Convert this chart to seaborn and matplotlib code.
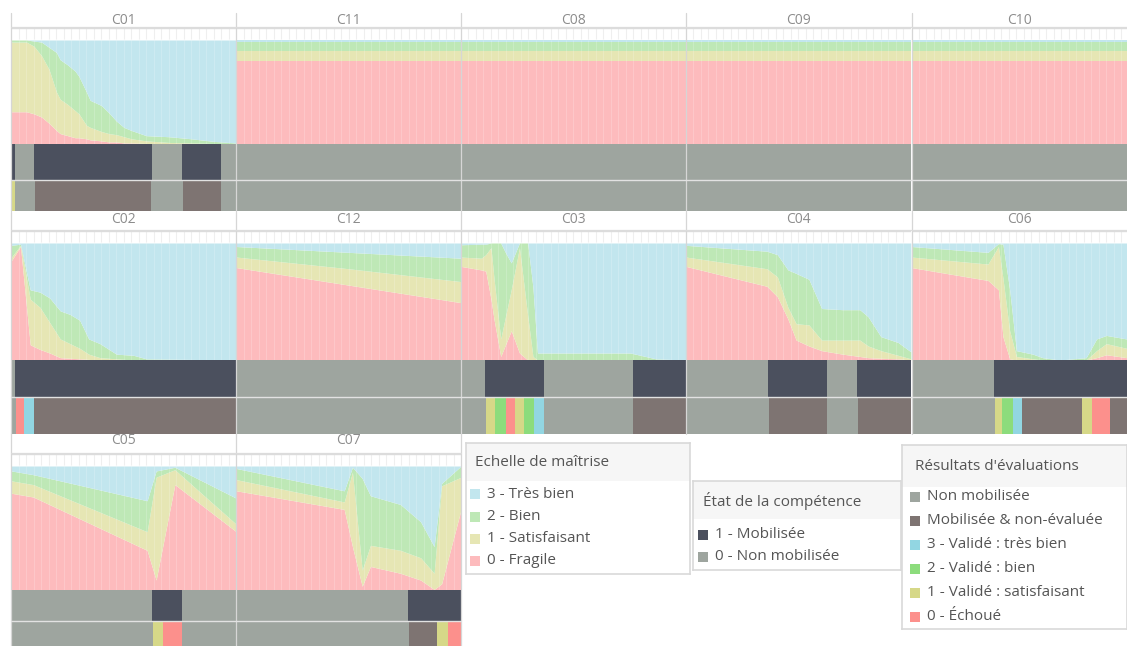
import numpy as np
import matplotlib
matplotlib.use("Agg")
import matplotlib.pyplot as plt
from matplotlib.lines import Line2D
from matplotlib.patches import Rectangle
import seaborn as sns

# ---- data : share of students per level (%), x = time step 0..30 ----
c01_x = [0, 2, 3, 4, 5, 6, 6.5, 7.5, 8.5, 9, 10, 10.5, 12, 13, 14, 15, 16, 18, 21, 24, 27, 30]
c01_frag = [31, 31, 29, 26, 20, 13, 10, 8, 6, 6, 5, 4, 3, 2, 2, 1, 1, 0.5, 0, 0, 0, 0]
c01_sat = [67, 67, 65, 59, 52, 37, 33, 30, 26, 23, 13, 12, 9, 8, 7, 6, 4, 2.5, 1.5, 1, 0.5, 0.5]
c01_bien = [2, 2, 5, 13, 21, 38, 38, 38, 38, 36, 32, 26, 25, 20, 13, 9, 8, 5, 5.5, 4, 2, 0.5]

c11_x = [0, 30]
c11_frag = [80, 80]
c11_sat = [9, 9]
c11_bien = [9.5, 9.5]

c08_x = [0, 30]
c08_frag = [80, 80]
c08_sat = [9, 9]
c08_bien = [9.5, 9.5]

c09_x = [0, 30]
c09_frag = [80, 80]
c09_sat = [9, 9]
c09_bien = [9.5, 9.5]

c10_x = [0, 30]
c10_frag = [80, 80]
c10_sat = [9, 9]
c10_bien = [9.5, 9.5]

c02_x = [0, 1.2, 2.5, 3.8, 5.1, 6.5, 7.8, 9.1, 10.3, 11.8, 14, 16.3, 18, 30]
c02_frag = [85, 97, 13, 9, 6, 2, 1.5, 1, 0.5, 0, 0, 0, 0, 0]
c02_sat = [3, 1, 39, 36, 26, 16, 12.5, 9, 4.5, 2, 1, 0, 0, 0]
c02_bien = [10, 1, 8, 13, 21, 24, 25, 24, 13, 12, 4, 4, 1, 0]

c12_x = [0, 15, 30]
c12_frag = [79, 64, 49]
c12_sat = [9, 14, 18]
c12_bien = [9, 14, 20]

c03_x = [0, 2.7, 3.3, 4.0, 4.4, 5.3, 6.0, 6.7, 7.8, 8.9, 9.6, 10.2, 22.6, 26, 30]
c03_frag = [80, 77, 76, 52, 35, 3, 14, 25, 6, 0, 0, 0, 0, 0, 0]
c03_sat = [8, 10, 14, 44, 35, 15, 25, 35, 90, 38, 3, 0, 0, 0, 0]
c03_bien = [10.5, 12, 9, 4, 30, 82, 52, 23, 4, 62, 59, 6, 6, 1, 0]

c04_x = [0, 10.8, 12.2, 13.6, 14.7, 16.4, 18.1, 20.9, 23.2, 24.3, 26, 28.3, 30]
c04_frag = [80, 63, 54, 35, 17, 12, 8, 5, 3, 2, 1.5, 1, 0]
c04_sat = [8, 15, 17, 10, 14, 18, 9, 12, 14, 10, 6.5, 3, 1]
c04_bien = [10, 15, 19, 32, 43, 39, 27, 26, 26, 25, 12, 11, 6]

c06_x = [0, 10.2, 11.6, 12.2, 13.1, 14, 16.2, 17.5, 19.8, 23.3, 24.7, 26, 28.7, 30]
c06_frag = [79, 68, 60, 20, 1, 0, 0, 0, 0, 0, 2, 4.5, 2, 2]
c06_sat = [9, 14, 37, 50, 24, 3, 1, 0, 0, 0, 6, 9.5, 8, 8]
c06_bien = [9, 10, 2.5, 29, 35, 5, 4, 2, 0, 2, 10, 7, 8, 8]

c05_x = [0, 2.9, 18.1, 19.3, 21.8, 30]
c05_frag = [78, 75, 32, 8, 85, 47]
c05_sat = [10, 10, 15, 83, 12, 6]
c05_bien = [8, 8, 25, 5, 2, 21]

c07_x = [0, 14.4, 15.5, 16.8, 17.9, 21.9, 24.6, 26.4, 27.4, 30]
c07_frag = [80, 65, 35, 3, 19, 13.5, 8, 0.5, 5, 65]
c07_sat = [9, 6, 60, 13, 17, 18.5, 18, 13, 79, 26]
c07_bien = [9, 9, 4, 74, 40, 37, 29, 21.5, 2, 9]

# ---- state of the competence (1 mobilisee / 0 non) : segment edges + values ----
c01_state_x = [0, 0.5, 3.0, 18.8, 22.7, 27.9, 30]
c01_state = [1, 0, 1, 0, 1, 0]
c02_state_x = [0, 0.45, 30]
c02_state = [0, 1]
c03_state_x = [0, 3.2, 11.1, 22.9, 30]
c03_state = [0, 1, 0, 1]
c04_state_x = [0, 11.0, 18.8, 22.8, 30]
c04_state = [0, 1, 0, 1]
c06_state_x = [0, 11.0, 30]
c06_state = [0, 1]
c05_state_x = [0, 18.8, 22.8, 30]
c05_state = [0, 1, 0]
c07_state_x = [0, 22.9, 30]
c07_state = [0, 1]
none_state_x = [0, 30]
none_state = [0]

# ---- evaluation results : segment edges + codes ----
c01_res_x = [0, 0.45, 3.1, 18.6, 22.9, 27.9, 30]
c01_res = ["V1", "NM", "ME", "NM", "ME", "NM"]
c02_res_x = [0, 0.6, 1.7, 3.0, 30]
c02_res = ["NM", "E0", "V3", "ME"]
c03_res_x = [0, 3.3, 4.5, 6.0, 7.2, 8.4, 9.8, 11.1, 22.9, 30]
c03_res = ["NM", "V1", "V2", "E0", "V1", "V2", "V3", "NM", "ME"]
c04_res_x = [0, 11.1, 18.8, 22.9, 30]
c04_res = ["NM", "ME", "NM", "ME"]
c06_res_x = [0, 11.1, 12.1, 13.6, 14.8, 22.8, 24.1, 26.5, 30]
c06_res = ["NM", "V1", "V2", "V3", "ME", "V1", "E0", "ME"]
c05_res_x = [0, 18.9, 20.2, 22.7, 30]
c05_res = ["NM", "V1", "E0", "NM"]
c07_res_x = [0, 23.0, 26.8, 28.2, 30]
c07_res = ["NM", "ME", "V1", "E0"]
none_res_x = [0, 30]
none_res = ["NM"]

# ---- legends ----
scale_labels = ["3 - Très bien", "2 - Bien", "1 - Satisfaisant", "0 - Fragile"]
state_labels = ["1 - Mobilisée", "0 - Non mobilisée"]
res_codes = ["NM", "ME", "V3", "V2", "V1", "E0"]
res_labels = ["Non mobilisée", "Mobilisée & non-évaluée", "3 - Validé : très bien",
              "2 - Validé : bien", "1 - Validé : satisfaisant", "0 - Échoué"]

area_colors = ["#fdbbbd", "#e6e6b4", "#bee8b6", "#c2e6ee"]  # frag, sat, bien, tres bien
state_colors = {1: "#4b505e", 0: "#9ea59f"}
res_colors = dict(zip(res_codes, ["#9ea59f", "#7e7472", "#92d6e2", "#8cdc7c", "#d6d888", "#fc908c"]))

panels = [
    ("C01", c01_x, c01_frag, c01_sat, c01_bien, c01_state_x, c01_state, c01_res_x, c01_res),
    ("C11", c11_x, c11_frag, c11_sat, c11_bien, none_state_x, none_state, none_res_x, none_res),
    ("C08", c08_x, c08_frag, c08_sat, c08_bien, none_state_x, none_state, none_res_x, none_res),
    ("C09", c09_x, c09_frag, c09_sat, c09_bien, none_state_x, none_state, none_res_x, none_res),
    ("C10", c10_x, c10_frag, c10_sat, c10_bien, none_state_x, none_state, none_res_x, none_res),
    ("C02", c02_x, c02_frag, c02_sat, c02_bien, c02_state_x, c02_state, c02_res_x, c02_res),
    ("C12", c12_x, c12_frag, c12_sat, c12_bien, none_state_x, none_state, none_res_x, none_res),
    ("C03", c03_x, c03_frag, c03_sat, c03_bien, c03_state_x, c03_state, c03_res_x, c03_res),
    ("C04", c04_x, c04_frag, c04_sat, c04_bien, c04_state_x, c04_state, c04_res_x, c04_res),
    ("C06", c06_x, c06_frag, c06_sat, c06_bien, c06_state_x, c06_state, c06_res_x, c06_res),
    ("C05", c05_x, c05_frag, c05_sat, c05_bien, c05_state_x, c05_state, c05_res_x, c05_res),
    ("C07", c07_x, c07_frag, c07_sat, c07_bien, c07_state_x, c07_state, c07_res_x, c07_res),
]

sns.set_theme(style="white")
plt.rcParams["font.family"] = ["Open Sans", "DejaVu Sans"]

W, H = 1127, 646
fig = plt.figure(figsize=(W / 100, H / 100), dpi=100)


def px_axes(x0, y0, x1, y1):
    return fig.add_axes([x0 / W, 1 - y1 / H, (x1 - x0) / W, (y1 - y0) / H])


def clean(ax):
    ax.set_xticks([])
    ax.set_yticks([])
    for s in ax.spines.values():
        s.set_visible(False)


col_left = [11.5, 236.3, 461, 686, 911.5]
col_w = 224.8
# band_top, title_y, strip, area, state, result
rows = [
    (13, 20, (27, 40), (40, 144), (144, 180), (181, 211)),
    (212, 220, (230, 243), (243, 360), (360, 397), (398, 434)),
    (434, 441, (453, 466), (466, 590), (590, 621), (622, 646)),
]

for i, (name, x, frag, sat, bien, sx, sv, rx, rv) in enumerate(panels):
    band_top, ty, strip, area, st, rs = rows[i // 5]
    left = col_left[i % 5]
    right = left + col_w

    # thin strip with the faint date cells
    ax = px_axes(left, strip[0], right, strip[1])
    clean(ax)
    ax.set_xlim(0, 30)
    ax.vlines(np.arange(1, 30), 0, 1, color="#efefef", lw=0.8)
    ax.axhline(1, color="#dcdcdc", lw=1)

    # stacked 100% area
    ax = px_axes(left, area[0], right, area[1])
    clean(ax)
    tb = np.clip(100 - (np.array(frag) + np.array(sat) + np.array(bien)), 0, None)
    ax.stackplot(x, frag, sat, bien, tb, colors=area_colors, lw=0)
    ax.vlines(np.arange(1, 30), 0, 100, color="white", lw=0.6, alpha=0.22)
    ax.set_xlim(0, 30)
    ax.set_ylim(0, 100)

    # state bar
    ax = px_axes(left, st[0], right, st[1])
    clean(ax)
    ax.barh(0, np.diff(sx), left=sx[:-1], height=1,
            color=[state_colors[v] for v in sv], lw=0)
    ax.set_xlim(0, 30)
    ax.set_ylim(-0.5, 0.5)

    # result bar
    ax = px_axes(left, rs[0], right, rs[1])
    clean(ax)
    ax.barh(0, np.diff(rx), left=rx[:-1], height=1,
            color=[res_colors[v] for v in rv], lw=0)
    ax.set_xlim(0, 30)
    ax.set_ylim(-0.5, 0.5)

    fig.text((left + min(right, W)) / 2 / W, 1 - ty / H, name, ha="center", va="center",
             fontsize=10, color="#8c8c8c")

# column separators and row lines
for r, (band_top, ty, strip, area, st, rs) in enumerate(rows):
    n = 5 if r < 2 else 2
    for c in range(n + 1):
        if c >= 5:
            continue
        xx = col_left[c]
        fig.add_artist(Line2D([xx / W, xx / W], [1 - band_top / H, 1 - rs[1] / H],
                              color="#d6d6d6", lw=0.9))
    x_end = W if n == 5 else col_left[n]
    fig.add_artist(Line2D([col_left[0] / W, x_end / W], [1 - strip[0] / H, 1 - strip[0] / H],
                          color="#dcdcdc", lw=0.9))
    fig.add_artist(Line2D([col_left[0] / W, x_end / W], [1 - st[1] / H, 1 - st[1] / H],
                          color="#e2e2e2", lw=1.0))


def legend_box(x0, y0, x1, y1, head_h, title, labels, colors, item_y, text_x, fs=11):
    ax = px_axes(x0, y0, x1, y1)
    ax.set_xlim(0, x1 - x0)
    ax.set_ylim(y1 - y0, 0)
    ax.set_xticks([])
    ax.set_yticks([])
    for s in ax.spines.values():
        s.set_color("#d9d9d9")
        s.set_linewidth(1.2)
    ax.add_patch(Rectangle((0, 0), x1 - x0, head_h, color="#f6f6f6", lw=0))
    ax.text(text_x - 12, head_h / 2 + 1, title, va="center", ha="left",
            fontsize=fs, color="#555555")
    for lab, col, yy in zip(labels, colors, item_y):
        ax.add_patch(Rectangle((text_x - 17, yy - 5), 10, 10, color=col, lw=0))
        ax.text(text_x, yy, lab, va="center", ha="left", fontsize=fs, color="#555555")


legend_box(466, 443, 690, 574, 38, "Echelle de maîtrise", scale_labels,
           area_colors[::-1], [51, 74, 96, 118], 21)
legend_box(693, 481, 901, 570, 38, "État de la compétence", state_labels,
           [state_colors[1], state_colors[0]], [54, 76], 22)
legend_box(902, 445, 1127, 629, 42, "Résultats d'évaluations", res_labels,
           [res_colors[c] for c in res_codes], [52, 76, 100, 124, 148, 172], 25)

fig.savefig("out.png", dpi=100, facecolor="white")
